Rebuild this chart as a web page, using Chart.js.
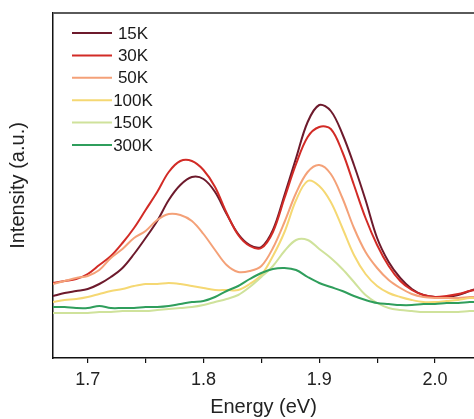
<!DOCTYPE html>
<html>
<head>
<meta charset="utf-8">
<script src="https://cdn.jsdelivr.net/npm/chart.js@4.4.1/dist/chart.umd.min.js"></script>
<style>
  html, body { margin: 0; padding: 0; background: #ffffff; }
  #wrap { width: 474px; height: 419px; position: relative; }
</style>
</head>
<body>
<div id="wrap"><canvas id="c" width="474" height="419"></canvas></div>
<script>
// Energy grid (eV)
const energies = [1.67,1.68,1.69,1.70,1.71,1.72,1.73,1.74,1.75,1.76,1.77,1.78,1.79,1.80,1.81,1.82,1.83,1.84,1.85,1.86,1.87,1.88,1.89,1.90,1.91,1.92,1.93,1.94,1.95,1.96,1.97,1.98,1.99,2.00,2.01,2.02,2.03,2.035];

// Series labels and colours
const seriesLabels = ["15K","30K","50K","100K","150K","300K"];
const seriesColors = ["#6d1a2c","#d22b26","#f4a178","#f5d873","#cfe29b","#2f9e5c"];

// Intensity (a.u.)
const int15K  = [62,65,67,69,74,81,90,104,120,137,158,173,181,179,166,144,124,113,111,128,163,200,236,253,247,224,193,158,120,96,80,69,63,61,61,63,67,69];
const int30K  = [75,77,79,84,93,102,115,130,148,166,186,197,197,188,171,145,123,112,110,126,160,194,221,231,229,206,173,140,113,92,77,68,63,61,62,64,67,68];
const int50K  = [74,77,80,82,88,100,109,120,127,138,144,143,137,124,108,93,86,87,92,110,136,165,186,193,184,160,130,106,90,78,70,64,61,60,60,60,61,61];
const int100K = [56,58,59,61,64,67,69,72,74,74,75,74,72,70,68,68,68,74,83,102,126,158,177,172,156,130,103,84,72,65,61,58,56,56,57,58,60,60];
const int150K = [45,45,45,45,46,46,47,47,47,48,49,50,51,53,56,59,63,71,81,92,107,118,118,109,100,89,76,63,55,50,48,47,46,46,46,46,47,47];
const int300K = [51,51,50,50,52,50,50,50,51,51,52,54,56,57,61,67,72,79,85,89,90,88,81,75,71,67,62,58,55,54,53,53,54,54,55,55,56,56];

const seriesValues = [int15K, int30K, int50K, int100K, int150K, int300K];

// Axis settings
const xMin = 1.67, xMax = 2.0337, xStep = 0.05;
const yMin = 0, yMax = 345;

const FONT = "'Liberation Sans', Arial, Helvetica, sans-serif";

const datasets = seriesLabels.map((lab, k) => ({
  label: lab,
  data: energies.map((e, i) => ({ x: e, y: seriesValues[k][i] })),
  borderColor: seriesColors[k],
  backgroundColor: seriesColors[k],
  borderWidth: 2,
  pointRadius: 0,
  fill: false,
  tension: 0.35
})).reverse();

const framePlugin = {
  id: 'frameAndLegend',
  afterDraw(chart) {
    const ctx = chart.ctx;
    const a = chart.chartArea;
    ctx.save();
    // top frame line
    ctx.strokeStyle = '#5a5a5a';
    ctx.lineWidth = 2;
    ctx.beginPath();
    ctx.moveTo(a.left, a.top);
    ctx.lineTo(chart.width, a.top);
    ctx.stroke();
    // legend
    const x0 = a.left + 19, x1 = a.left + 59, tx = a.left + 80;
    const y0 = a.top + 20, dy = 22.4;
    ctx.font = "17px " + FONT;
    ctx.textAlign = 'center';
    ctx.textBaseline = 'middle';
    seriesLabels.forEach((lab, k) => {
      const y = y0 + k * dy;
      ctx.strokeStyle = seriesColors[k];
      ctx.lineWidth = 2;
      ctx.beginPath();
      ctx.moveTo(x0, y);
      ctx.lineTo(x1, y);
      ctx.stroke();
      ctx.fillStyle = '#1a1a1a';
      ctx.fillText(lab, tx, y + 1);
    });
    ctx.restore();
  }
};

new Chart(document.getElementById('c'), {
  type: 'line',
  data: { datasets },
  options: {
    responsive: false,
    animation: false,
    events: [],
    layout: { padding: { top: 13, right: 0, left: 0, bottom: 0 } },
    plugins: { legend: { display: false }, tooltip: { enabled: false } },
    scales: {
      x: {
        type: 'linear',
        min: xMin,
        max: xMax,
        afterFit(s) { s.height = 61; },
        border: { display: true, color: '#111', width: 1.5 },
        grid: { display: true, drawOnChartArea: false, drawTicks: true, tickLength: 5, color: '#111', lineWidth: 1.2 },
        ticks: {
          stepSize: xStep,
          includeBounds: false,
          autoSkip: false,
          maxRotation: 0,
          padding: 6,
          color: '#222',
          font: { family: FONT, size: 18 },
          callback(v) {
            const r = Math.round(v * 100);
            return (r % 10 === 0) ? (r / 100).toFixed(1) : '';
          }
        },
        title: {
          display: true,
          text: 'Energy (eV)',
          color: '#222',
          font: { family: FONT, size: 20 },
          padding: { top: 0, bottom: 0 }
        }
      },
      y: {
        min: yMin,
        max: yMax,
        afterFit(s) { s.width = 53; },
        border: { display: true, color: '#111', width: 1.5 },
        grid: { display: false },
        ticks: { display: false },
        title: {
          display: true,
          text: 'Intensity (a.u.)',
          color: '#222',
          font: { family: FONT, size: 20 },
          padding: { top: 6, bottom: 0 }
        }
      }
    }
  },
  plugins: [framePlugin]
});
</script>
</body>
</html>
